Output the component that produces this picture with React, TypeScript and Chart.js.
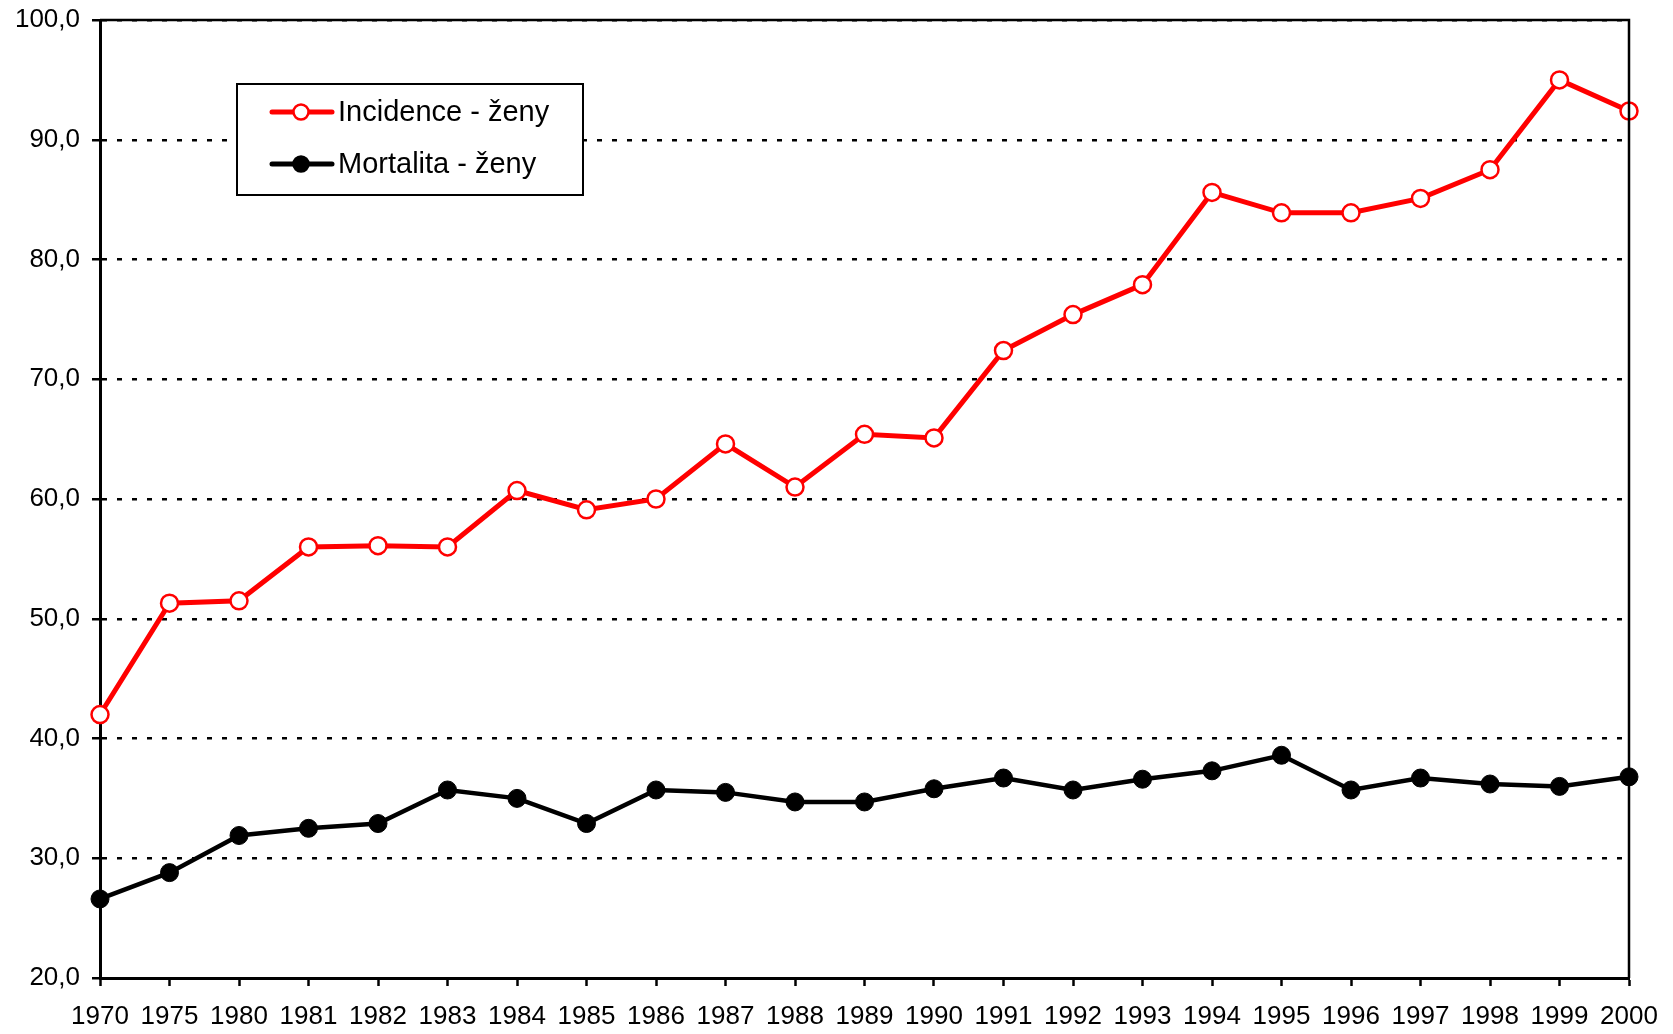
import React, { useEffect, useRef } from "react";
import { Chart, registerables } from "chart.js";

Chart.register(...registerables);

const years = ["1970","1975","1980","1981","1982","1983","1984","1985","1986","1987","1988","1989","1990","1991","1992","1993","1994","1995","1996","1997","1998","1999","2000"];
const incidence = [42.0,51.3,51.5,56.0,56.1,56.0,60.7,59.1,60.0,64.6,61.0,65.4,65.1,72.4,75.4,77.9,85.6,83.9,83.9,85.1,87.5,95.0,92.4];
const mortality = [26.6,28.8,31.9,32.5,32.9,35.7,35.0,32.9,35.7,35.5,34.7,34.7,35.8,36.7,35.7,36.6,37.3,38.6,35.7,36.7,36.2,36.0,36.8];
const seriesNames = ["Incidence - ženy", "Mortalita - ženy"];
const yMin = 20;
const yMax = 100;
const yStep = 10;

const FONT = "'Liberation Sans', Arial, sans-serif";

const framePlugin = {
  id: "frame",
  afterDatasetsDraw(chart: any) {
    const { ctx, chartArea } = chart;
    ctx.save();
    ctx.strokeStyle = "#000";
    ctx.lineWidth = 2.5;
    ctx.beginPath();
    ctx.moveTo(chartArea.left, chartArea.top);
    ctx.lineTo(chartArea.right, chartArea.top);
    ctx.lineTo(chartArea.right, chartArea.bottom);
    ctx.stroke();
    ctx.restore();
  },
  afterDraw(chart: any) {
    const { ctx, chartArea } = chart;
    const bx = chartArea.left + 137;
    const by = chartArea.top + 64;
    const bw = 346;
    const bh = 111;
    ctx.save();
    ctx.fillStyle = "#fff";
    ctx.fillRect(bx, by, bw, bh);
    ctx.strokeStyle = "#000";
    ctx.lineWidth = 2;
    ctx.strokeRect(bx, by, bw, bh);
    const rows = [
      { y: by + 28, color: "#FF0000", fill: "#FFFFFF", label: seriesNames[0] },
      { y: by + 80, color: "#000000", fill: "#000000", label: seriesNames[1] },
    ];
    rows.forEach((r) => {
      ctx.strokeStyle = r.color;
      ctx.lineWidth = 5;
      ctx.lineCap = "round";
      ctx.beginPath();
      ctx.moveTo(bx + 35, r.y);
      ctx.lineTo(bx + 95, r.y);
      ctx.stroke();
      ctx.beginPath();
      ctx.arc(bx + 64, r.y, 7.5, 0, Math.PI * 2);
      ctx.fillStyle = r.fill;
      ctx.fill();
      ctx.lineWidth = 2.5;
      ctx.stroke();
      ctx.fillStyle = "#000";
      ctx.font = `29px ${FONT}`;
      ctx.textBaseline = "middle";
      ctx.textAlign = "left";
      ctx.fillText(r.label, bx + 101, r.y + 1);
    });
    ctx.restore();
  },
};

export default function App() {
  const ref = useRef<HTMLCanvasElement | null>(null);
  useEffect(() => {
    if (!ref.current) return;
    const chart = new Chart(ref.current, {
      type: "line",
      data: {
        labels: years,
        datasets: [
          {
            label: seriesNames[0],
            data: incidence,
            borderColor: "#FF0000",
            borderWidth: 5,
            pointRadius: 8.5,
            pointBorderWidth: 2.5,
            pointBackgroundColor: "#FFFFFF",
            pointBorderColor: "#FF0000",
            tension: 0,
            clip: false as any,
          },
          {
            label: seriesNames[1],
            data: mortality,
            borderColor: "#000000",
            borderWidth: 4.5,
            pointRadius: 9,
            pointBorderWidth: 1,
            pointBackgroundColor: "#000000",
            pointBorderColor: "#000000",
            tension: 0,
            clip: false as any,
          },
        ],
      },
      options: {
        animation: false,
        responsive: false,
        maintainAspectRatio: false,
        events: [],
        layout: { padding: { left: 0, right: 44, top: 20, bottom: 0 } },
        plugins: {
          legend: { display: false },
          tooltip: { enabled: false },
          title: { display: false },
        },
        scales: {
          x: {
            type: "category",
            offset: false,
            grid: {
              drawOnChartArea: false,
              drawTicks: true,
              tickLength: 8,
              tickColor: "#000",
              tickWidth: 2.5,
            },
            border: { display: true, color: "#000", width: 3 },
            ticks: {
              color: "#000",
              font: { family: FONT, size: 26 },
              padding: 15,
              maxRotation: 0,
              autoSkip: false,
            },
            afterFit(scale: any) {
              scale.height = 56;
              scale.paddingLeft = 0;
              scale.paddingRight = 0;
            },
          },
          y: {
            min: yMin,
            max: yMax,
            grid: {
              color: "#000",
              lineWidth: 2.5,
              drawTicks: true,
              tickLength: 8,
              tickColor: "#000",
              tickWidth: 2.5,
              tickBorderDash: [],
            },
            border: { display: true, color: "#000", width: 3, dash: [5, 10] },
            ticks: {
              stepSize: yStep,
              color: "#000",
              font: { family: FONT, size: 26 },
              padding: 12,
              callback: (v: any) => Number(v).toFixed(1).replace(".", ","),
            },
            afterFit(scale: any) {
              scale.width = 100;
              scale.paddingTop = 0;
              scale.paddingBottom = 0;
            },
          },
        },
      },
      plugins: [framePlugin],
    });
    return () => chart.destroy();
  }, []);
  return (
    <div style={{ position: "fixed", left: 0, top: 0, width: 1673, height: 1034, background: "#fff" }}>
      <canvas ref={ref} width={1673} height={1034} style={{ width: 1673, height: 1034, display: "block" }} />
    </div>
  );
}
